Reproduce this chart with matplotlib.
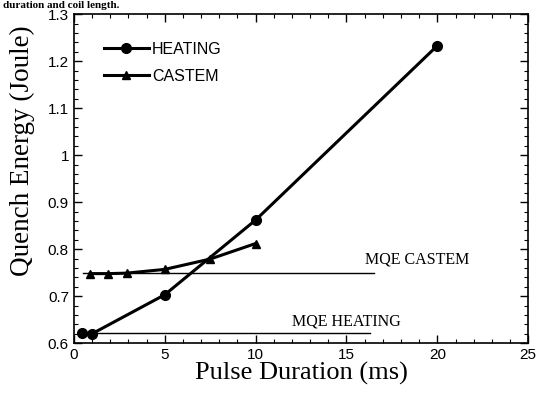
import matplotlib
matplotlib.use("Agg")
import matplotlib.pyplot as plt
from matplotlib.ticker import MultipleLocator

# data
heating_x = [0.45, 1.0, 5.0, 10.0, 20.0]
heating_y = [0.622, 0.620, 0.703, 0.862, 1.233]
castem_x = [0.9, 1.9, 2.9, 5.0, 7.5, 10.0]
castem_y = [0.748, 0.748, 0.749, 0.757, 0.779, 0.812]
mqe_castem = 0.750
mqe_heating = 0.622
mqe_castem_x = [0.5, 16.5]
mqe_heating_x = [0.5, 16.3]

fig = plt.figure(figsize=(5.39, 3.94), dpi=100)
ax = fig.add_axes([0.137, 0.129, 0.843, 0.835])

ax.plot(heating_x, heating_y, color="black", lw=2.2, marker="o",
        markersize=7, label="HEATING")
ax.plot(castem_x, castem_y, color="black", lw=2.2, marker="^",
        markersize=6, label="CASTEM")

ax.plot(mqe_castem_x, [mqe_castem, mqe_castem], color="black", lw=1)
ax.plot(mqe_heating_x, [mqe_heating, mqe_heating], color="black", lw=1)
ax.text(16.0, 0.770, "MQE CASTEM", family="Liberation Serif", fontsize=11.5)
ax.text(12.0, 0.638, "MQE HEATING", family="Liberation Serif", fontsize=11.5)

ax.set_xlim(0, 25)
ax.set_ylim(0.6, 1.3)
ax.xaxis.set_major_locator(MultipleLocator(5))
ax.xaxis.set_minor_locator(MultipleLocator(1))
ax.yaxis.set_minor_locator(MultipleLocator(0.02))
ax.set_yticks([0.6, 0.7, 0.8, 0.9, 1.0, 1.1, 1.2, 1.3],
              ["0.6", "0.7", "0.8", "0.9", "1", "1.1", "1.2", "1.3"])
ax.tick_params(which="both", direction="in", top=True, right=True)
ax.tick_params(which="major", length=6, width=1, labelsize=11)
ax.tick_params(which="minor", length=3, width=0.8)
for lab in ax.get_xticklabels() + ax.get_yticklabels():
    lab.set_family("Liberation Sans")
for s in ax.spines.values():
    s.set_linewidth(1.2)

ax.set_xlabel("Pulse Duration (ms)", family="Liberation Serif",
              fontsize=19, labelpad=0)
ax.set_ylabel("Quench Energy (Joule)", family="Liberation Serif",
              fontsize=19.5, labelpad=2)
ax.yaxis.set_label_coords(-0.085, 0.585)

leg = ax.legend(loc="upper left", bbox_to_anchor=(0.035, 0.96), frameon=False,
                handlelength=2.8, handletextpad=0.2, labelspacing=0.75,
                prop={"family": "Liberation Sans", "size": 11.5})

fig.text(0.005, 0.998, "duration and coil length.", family="Liberation Serif",
         fontsize=8, fontweight="bold", va="top")

fig.savefig("out.png", dpi=100)
